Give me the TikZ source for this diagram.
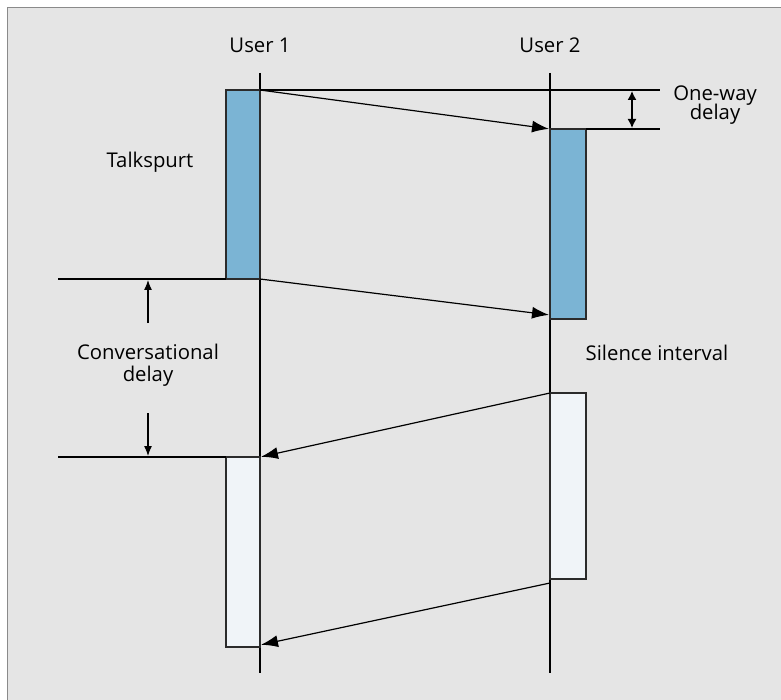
\documentclass[tikz,border=0pt]{standalone}
\usepackage{fontspec}
\setmainfont{Open Sans}
\usepackage{tikz}
\usetikzlibrary{arrows.meta}
\definecolor{panelgray}{HTML}{E5E5E5}
\definecolor{framegray}{HTML}{8A8A8A}
\definecolor{talkblue}{HTML}{7BB4D4}
\definecolor{silentwhite}{HTML}{F0F4F8}
\definecolor{inkgray}{HTML}{2B2B2B}

\begin{document}
\begin{tikzpicture}[
  x=1pt, y=-1pt,
  font=\fontsize{20.3}{23}\selectfont,
  lbl/.style={inner sep=0pt, align=center, text=black},
  life/.style={draw=black, line width=1.1pt},
  rule/.style={draw=black, line width=1.3pt},
  seg/.style={draw=inkgray, line width=1.8pt, inner sep=0pt, outer sep=0pt},
  talk/.style={seg, fill=talkblue},
  silent/.style={seg, fill=silentwhite},
  msg/.style={-{Latex[length=17pt,width=12pt]}, line width=1.2pt, shorten >=1pt},
  gap/.style={-{Latex[length=10pt,width=8pt]}, line width=1.2pt},
  twoway/.style={{Latex[length=9pt,width=9pt]}-{Latex[length=9pt,width=9pt]}, line width=1.4pt}
]
  \useasboundingbox (0,0) rectangle (781,700);
  \clip (0,0) rectangle (781,700);
  \fill[white] (0,0) rectangle (781,700);
  \draw[framegray, fill=panelgray, line width=1.5pt] (7.5,7.5) rectangle (800,720);

  % users and their time lines
  \node[lbl] (user1) at (260,45) {User 1};
  \node[lbl] (user2) at (550,45) {User 2};
  \coordinate (top1) at (260,73);
  \coordinate (end1) at (260,673);
  \coordinate (top2) at (550,73);
  \coordinate (end2) at (550,673);
  \draw[life] (top1) -- (end1);
  \draw[life] (top2) -- (end2);

  % talkspurts and silent periods
  \node[talk, minimum width=34pt, minimum height=189pt, anchor=north east] (talkA) at (260,90) {};
  \node[talk, minimum width=36pt, minimum height=190pt, anchor=north west] (talkB) at (550,129) {};
  \node[silent, minimum width=36pt, minimum height=186pt, anchor=north west] (quietB) at (550,393) {};
  \node[silent, minimum width=34pt, minimum height=190pt, anchor=north east] (quietA) at (260,457) {};

  % one-way delay marker
  \coordinate (owd1) at (660,90);
  \coordinate (owd2) at (660,129);
  \draw[rule] (talkA.north east) -- (owd1);
  \draw[rule] (talkB.north east) -- (owd2);
  \coordinate (owdtop) at (632,91);
  \coordinate (owdbot) at (632,128);
  \draw[twoway] (owdtop) -- (owdbot);
  \node[lbl] (owd) at (715,105) {One-way\\[-4pt]delay};

  % conversational delay marker
  \coordinate (cd1) at (58,279);
  \coordinate (cd2) at (58,457);
  \draw[rule] (cd1) -- (talkA.south west);
  \draw[rule] (cd2) -- (quietA.north west);
  \coordinate (cdup) at (148,323);
  \coordinate (cdupend) at (148,280);
  \coordinate (cddown) at (148,413);
  \coordinate (cddownend) at (148,456);
  \draw[gap] (cdup) -- (cdupend);
  \draw[gap] (cddown) -- (cddownend);
  \node[lbl] (conv) at (148,365) {Conversational\\[-1pt]delay};

  % voice packets in flight
  \draw[msg] (talkA.north east) -- (talkB.north west);
  \draw[msg] (talkA.south east) -- ([yshift=4pt]talkB.south west);
  \draw[msg] (quietB.north west) -- (quietA.north east);
  \draw[msg] ([yshift=-4pt]quietB.south west) -- ([yshift=2pt]quietA.south east);

  \node[lbl] (spurt) at (150,162) {Talkspurt};
  \node[lbl] (silence) at (657,353) {Silence interval};
\end{tikzpicture}
\end{document}
